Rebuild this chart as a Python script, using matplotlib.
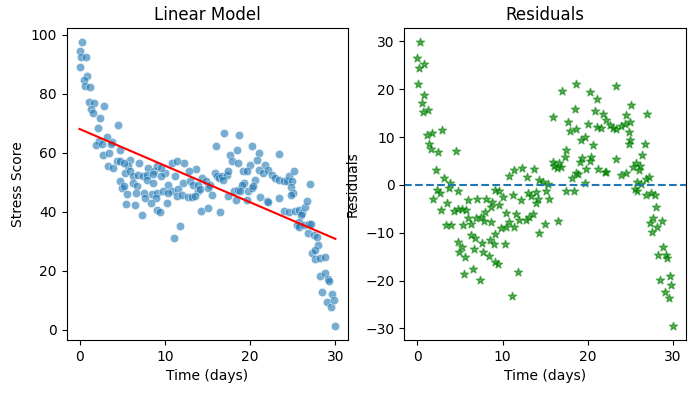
import numpy as np
import matplotlib
matplotlib.use("Agg")
import matplotlib.pyplot as plt
import seaborn as sns

# Time (days) and stress score
days_a = [0.32, 0.0, 0.15, 0.74, 0.04, 0.82, 0.55, 0.62, 1.21, 1.09, 1.68, 2.86, 1.33, 1.61,
          2.44, 2.2, 4.55, 2.27, 3.18, 3.85, 1.88, 2.67, 3.68, 4.74, 2.79, 3.45, 3.38, 3.96,
          4.35, 4.74, 4.74, 4.94]
stress_a = [97.5, 94.6, 92.4, 92.4, 89.1, 85.9, 84.5, 82.5, 82.3, 77.2, 76.8, 75.9, 74.9, 73.5,
            71.9, 68.4, 69.5, 64.1, 65.5, 63.6, 62.7, 63.1, 62.9, 61.0, 59.3, 59.9, 55.4, 54.8,
            57.3, 57.1, 50.3, 48.0]

days_b = [5.92, 6.98, 5.73, 8.08, 8.74, 5.33, 5.92, 6.32, 6.91, 7.49, 7.96, 8.62, 5.26, 6.32,
          6.71, 7.88, 8.59, 5.61, 6.62, 7.56, 8.47, 9.06, 7.68, 8.98, 8.35, 5.45, 6.51, 7.33,
          9.14, 9.45, 5.21, 9.14]
stress_b = [57.6, 56.5, 55.6, 55.0, 53.7, 53.1, 53.7, 52.0, 52.5, 52.0, 52.5, 52.8, 48.6, 49.7,
            48.6, 50.8, 49.7, 46.1, 46.5, 46.5, 46.1, 46.5, 44.6, 44.6, 42.9, 42.7, 42.4, 39.0,
            40.7, 39.9, 56.5, 55.6]

days_c = [10.79, 12.24, 13.65, 12.82, 10.0, 9.61, 11.18, 10.39, 12.15, 12.94, 13.33, 9.8,
          10.79, 11.56, 11.38, 11.96, 12.74, 13.14, 13.92, 10.27, 11.76, 11.06, 11.38, 9.61,
          13.53, 10.39]
stress_c = [56.5, 56.5, 54.5, 53.7, 53.1, 52.0, 52.0, 49.2, 49.9, 50.3, 49.2, 46.9,
            46.9, 47.7, 45.2, 45.8, 45.0, 45.0, 46.9, 42.9, 35.3, 31.1, 57.1, 54.8,
            45.2, 46.3]

days_d = [16.98, 15.96, 17.65, 18.44, 17.85, 18.55, 14.32, 14.79, 15.29, 15.88, 16.08, 16.35,
          16.67, 17.26, 17.45, 16.86, 13.92, 15.09, 15.49, 17.45, 18.15, 18.62, 18.32, 14.24,
          15.02, 16.47, 14.1]
stress_d = [66.7, 62.4, 59.3, 61.0, 57.1, 56.7, 51.4, 50.3, 49.2, 53.1, 52.0, 51.4,
            52.0, 52.5, 53.7, 50.8, 49.2, 48.0, 45.8, 45.2, 46.9, 47.5, 44.1, 40.4,
            41.3, 40.1, 47.7]

days_e = [18.65, 20.27, 21.06, 23.33, 20.79, 20.0, 21.76, 19.21, 19.61, 21.06, 21.56, 22.15,
          22.55, 22.94, 23.33, 20.59, 19.33, 19.09, 18.82, 19.8, 20.2, 20.39, 19.61, 21.18,
          21.96, 22.15, 23.33]
stress_e = [66.1, 62.4, 59.9, 59.7, 57.6, 55.9, 55.9, 53.7, 53.7, 54.0, 53.1, 54.2,
            52.5, 51.4, 50.8, 50.8, 49.7, 49.2, 46.9, 46.9, 48.0, 48.6, 44.1, 45.0,
            43.5, 43.2, 44.6]

days_f = [23.92, 24.32, 24.51, 24.91, 25.09, 24.82, 24.98, 24.82, 26.98, 23.92, 24.51, 25.29,
          25.68, 26.08, 26.39, 26.67, 26.0, 25.76, 25.49, 25.76, 26.27, 26.86, 27.18, 26.79,
          27.45, 27.85, 27.96, 27.26, 27.56, 28.15, 28.74, 28.24, 28.82, 29.14, 29.29, 28.44,
          29.61, 29.02, 29.53, 30.0, 27.65, 29.8]
stress_f = [50.6, 50.6, 52.2, 50.3, 53.7, 48.4, 46.5, 45.8, 49.4, 40.4, 40.1, 40.4,
            40.7, 39.6, 41.6, 43.5, 39.0, 36.7, 35.6, 34.8, 35.6, 35.9, 35.9, 32.8,
            32.2, 31.4, 28.8, 26.2, 24.0, 24.3, 24.8, 18.3, 19.4, 17.2, 16.4, 13.0,
            12.2, 9.6, 7.7, 1.4, 26.9, 10.2]

x = np.array(days_a + days_b + days_c + days_d + days_e + days_f, dtype=float)
y = np.array(stress_a + stress_b + stress_c + stress_d + stress_e + stress_f, dtype=float)

slope, intercept = np.polyfit(x, y, 1)
fitted = intercept + slope * x
resid = y - fitted

fig, (ax1, ax2) = plt.subplots(1, 2, figsize=(6.95, 3.93), dpi=100)
fig.subplots_adjust(left=0.096, right=0.987, top=0.929, bottom=0.135, wspace=0.2)

sns.scatterplot(x=x, y=y, ax=ax1, alpha=0.6)
xs = np.array([x.min(), x.max()])
ax1.plot(xs, intercept + slope * xs, color="red")
ax1.set_title("Linear Model")
ax1.set_xlabel("Time (days)")
ax1.set_ylabel("Stress Score")

ax2.scatter(x, resid, marker="*", color="green", alpha=0.6)
ax2.axhline(0, linestyle="--")
ax2.set_title("Residuals")
ax2.set_xlabel("Time (days)")
ax2.set_ylabel("Residuals")

fig.savefig("out.png")
